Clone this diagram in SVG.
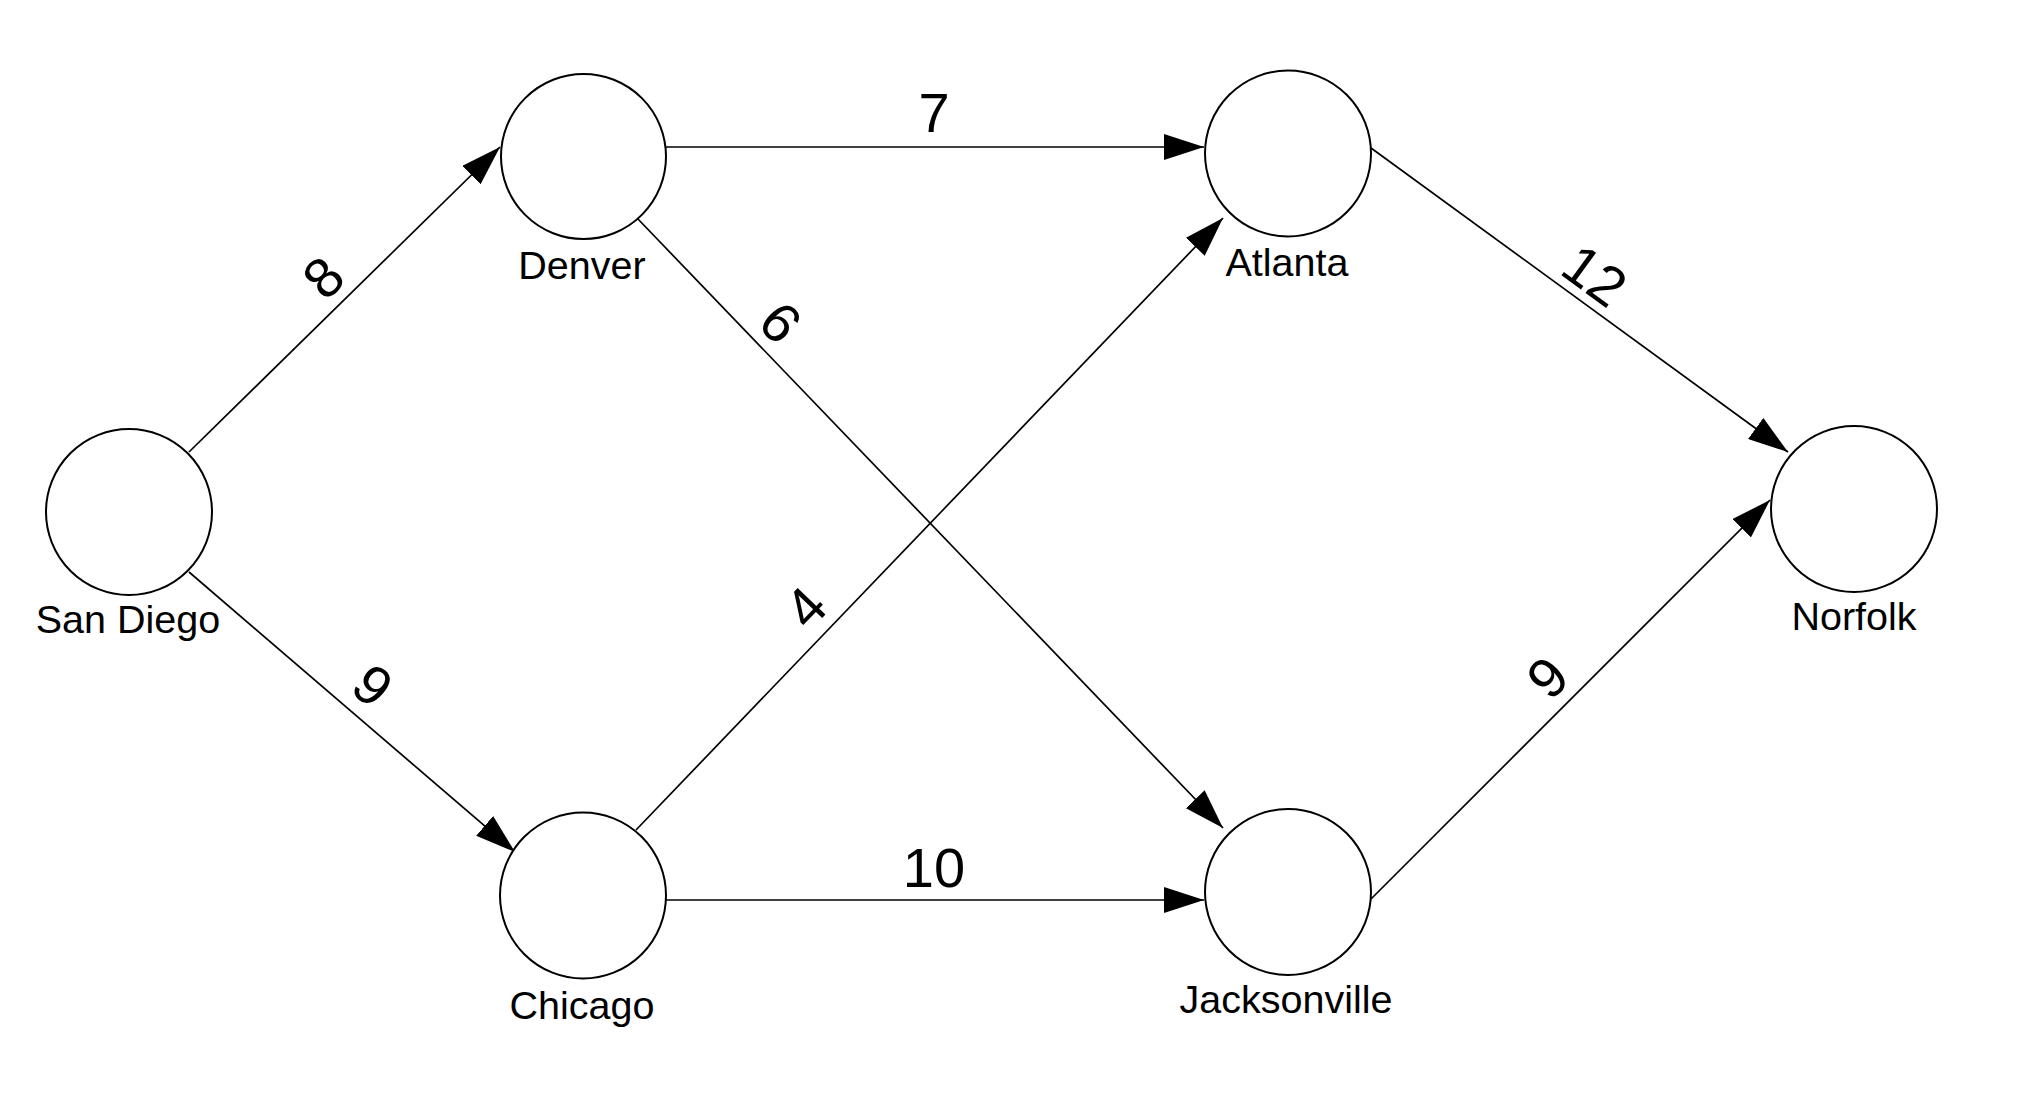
<svg xmlns="http://www.w3.org/2000/svg" width="2042" height="1114" viewBox="0 0 2042 1114">
<defs>
<marker id="arrow" markerUnits="userSpaceOnUse" markerWidth="40" markerHeight="26" refX="40" refY="13" orient="auto">
<path d="M0,0 L40,13 L0,26 z" fill="#000"/>
</marker>
<style>
.node circle{fill:#fff;stroke:#000;stroke-width:2}
.lbl{font-family:"Liberation Sans",Arial,sans-serif;font-size:39.5px;fill:#000;text-anchor:middle}
.edge line{stroke:#000;stroke-width:1.7;marker-end:url(#arrow)}
.w{font-family:"Liberation Sans",Arial,sans-serif;font-size:56px;fill:#000;text-anchor:middle}
</style>
</defs>
<rect width="2042" height="1114" fill="#fff"/>
<g id="connectors" class="edge">
<line x1="189" y1="452" x2="500" y2="147"/>
<line x1="189" y1="572" x2="515" y2="852"/>
<line x1="666" y1="147" x2="1204" y2="147"/>
<line x1="637" y1="218" x2="1223" y2="828"/>
<line x1="636" y1="830" x2="1223" y2="218"/>
<line x1="666" y1="900" x2="1204" y2="900"/>
<line x1="1371" y1="148" x2="1788" y2="452"/>
<line x1="1371" y1="899" x2="1770" y2="500"/>
<text class="w" transform="translate(323,277) rotate(-44.4)" y="20">8</text>
<text class="w" transform="translate(373,685) rotate(40.7)" y="20">9</text>
<text class="w" x="934" y="132">7</text>
<text class="w" transform="translate(781,322) rotate(46.1)" y="20">6</text>
<text class="w" transform="translate(805,607) rotate(-46.2)" y="20">4</text>
<text class="w" x="934" y="887">10</text>
<text class="w" transform="translate(1595,275) rotate(36.1)" y="20">12</text>
<text class="w" transform="translate(1547,677) rotate(-45)" y="20">9</text>
</g>
<g id="san-diego" class="node"><circle cx="129" cy="512" r="83"/><text class="lbl" x="128" y="633">San Diego</text></g>
<g id="denver" class="node"><circle cx="583.5" cy="156.5" r="82.5"/><text class="lbl" x="582" y="279">Denver</text></g>
<g id="atlanta" class="node"><circle cx="1288" cy="153.5" r="83"/><text class="lbl" x="1287" y="276">Atlanta</text></g>
<g id="chicago" class="node"><circle cx="583" cy="895.5" r="83"/><text class="lbl" x="582" y="1019">Chicago</text></g>
<g id="jacksonville" class="node"><circle cx="1288" cy="892" r="83"/><text class="lbl" x="1286" y="1013">Jacksonville</text></g>
<g id="norfolk" class="node"><circle cx="1854" cy="509" r="83"/><text class="lbl" x="1854" y="630">Norfolk</text></g>
</svg>
